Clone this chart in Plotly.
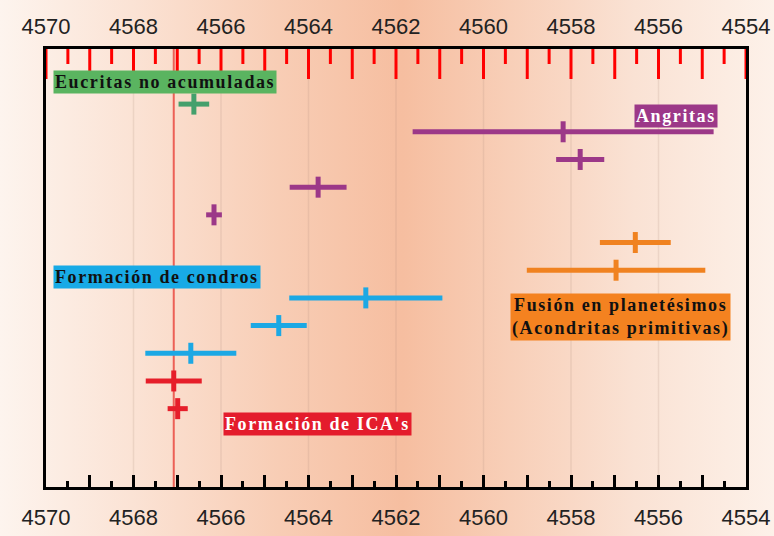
import base64
import plotly.graph_objects as go

# Ages (Ma) and 1-sigma half-widths, one row per dated sample (row 1 at top)
rows_eucritas = [1]
ages_eucritas = [4566.62]
err_eucritas = [0.35]

rows_angritas = [2, 3, 4, 5]
ages_angritas = [4558.18, 4557.79, 4563.78, 4566.16]
err_angritas = [3.44, 0.55, 0.65, 0.18]

rows_fusion = [6, 7]
ages_fusion = [4556.53, 4556.97]
err_fusion = [0.81, 2.04]

rows_condros = [8, 9, 10]
ages_condros = [4562.69, 4564.68, 4566.69]
err_condros = [1.75, 0.64, 1.04]

rows_ica = [11, 12]
ages_ica = [4567.08, 4566.99]
err_ica = [0.64, 0.23]

# Age of the first solids (vertical reference line)
age_ica_line = 4567.08

# Axis ticks
tick_major = list(range(4554, 4571))
tick_minor = [v + 0.5 for v in range(4554, 4570)]
tick_text = [str(v) if v % 2 == 0 else "" for v in tick_major]
grid_vals = list(range(4556, 4570, 2))

W, H = 774, 536
ML, MR, MT, MB = 46, 28, 49, 49
PW, PH = W - ML - MR, H - MT - MB
Y_RANGE = [14.83, -0.99]
PX_PER_ROW = PH / (Y_RANGE[0] - Y_RANGE[1])

groups = [
    (ages_eucritas, err_eucritas, rows_eucritas, "rgb(68,160,108)"),
    (ages_angritas, err_angritas, rows_angritas, "rgb(156,56,136)"),
    (ages_fusion, err_fusion, rows_fusion, "rgb(240,130,32)"),
    (ages_condros, err_condros, rows_condros, "rgb(28,168,228)"),
    (ages_ica, err_ica, rows_ica, "rgb(230,30,42)"),
]

fig = go.Figure()

# tick marks hanging from the top frame (drawn long and red for checking)
tx, ty = [], []
for vals, ln in ((tick_major, 30), (tick_minor, 15)):
    for v in vals:
        tx += [v, v, None]
        ty += [Y_RANGE[1], Y_RANGE[1] + ln / PX_PER_ROW, None]
fig.add_trace(go.Scatter(x=tx, y=ty, mode="lines", line=dict(color="red", width=3),
                         showlegend=False, hoverinfo="skip"))

for ages, errs, rows, col in groups:
    fig.add_trace(go.Scatter(
        x=ages, y=rows, mode="markers",
        marker=dict(symbol="line-ns", size=15, line=dict(width=5, color=col), color=col),
        error_x=dict(type="data", array=errs, thickness=5, width=0, color=col),
        showlegend=False, hoverinfo="skip",
    ))

# Horizontal background gradient across the whole page
stops = [(0.0, "#fdf4ee"), (0.17, "#fbe3d5"), (0.36, "#f8cdb5"), (0.52, "#f6bea0"),
         (0.66, "#f8cfb8"), (0.82, "#fae2d4"), (1.0, "#fdf1e9")]
stop_svg = "".join(f'<stop offset="{o}" stop-color="{c}"/>' for o, c in stops)
svg = ('<svg xmlns="http://www.w3.org/2000/svg" width="774" height="536" preserveAspectRatio="none">'
       '<defs><linearGradient id="g" x1="0" y1="0" x2="1" y2="0">' + stop_svg +
       '</linearGradient></defs><rect width="774" height="536" fill="url(#g)"/></svg>')
uri = "data:image/svg+xml;base64," + base64.b64encode(svg.encode()).decode()
fig.add_layout_image(dict(
    source=uri, xref="paper", yref="paper",
    x=-ML / PW, y=1 + MT / PH, sizex=W / PW, sizey=H / PH,
    sizing="stretch", xanchor="left", yanchor="top", layer="below",
))

shapes = []
for g in grid_vals:
    shapes.append(dict(type="line", xref="x", yref="paper", x0=g, x1=g, y0=0, y1=1,
                       line=dict(color="rgba(170,140,120,0.18)", width=1.5), layer="below"))
shapes.append(dict(type="line", xref="x", yref="paper", x0=age_ica_line, x1=age_ica_line,
                   y0=0, y1=1, line=dict(color="rgb(236,96,86)", width=2), layer="below"))
fig.update_layout(shapes=shapes)

lab_font = dict(family="Liberation Serif", size=18, weight="bold")


def sp(t):
    return f'<span style="letter-spacing:1.6px">{t}</span>'


annots = [
    dict(text=sp("Eucritas no acumuladas"), x=4569.84, y=0.21, xanchor="left",
         bgcolor="rgb(90,180,96)", fc="#111111"),
    dict(text=sp("Angritas"), x=4554.63, y=1.42, xanchor="right",
         bgcolor="rgb(156,56,136)", fc="#ffffff"),
    dict(text=sp("Formación de condros"), x=4569.84, y=7.26, xanchor="left",
         bgcolor="rgb(24,170,230)", fc="#111111"),
    dict(text=sp("Fusión en planetésimos") + "<br>" + sp("(Acondritas primitivas)"),
         x=4556.86, y=8.69, xanchor="center", bgcolor="rgb(244,130,32)", fc="#111111"),
    dict(text=sp("Formación de ICA's"), x=4563.79, y=12.55, xanchor="center",
         bgcolor="rgb(228,28,44)", fc="#ffffff"),
]
for a in annots:
    fig.add_annotation(text=a["text"], x=a["x"], y=a["y"], xref="x", yref="y",
                       xanchor=a["xanchor"], yanchor="middle", showarrow=False,
                       bgcolor=a["bgcolor"], borderpad=1,
                       font=dict(color=a["fc"], **lab_font))

tick_font = dict(family="Liberation Sans", size=22, color="#222222")
axis_common = dict(
    range=[4570, 4554], tickmode="array", tickvals=tick_major, ticktext=tick_text,
    ticks="inside", ticklen=12, tickwidth=2.5, tickcolor="black",
    minor=dict(tickmode="array", tickvals=tick_minor, ticks="inside", ticklen=6,
               tickwidth=2.5, tickcolor="black", showgrid=False),
    showgrid=False, zeroline=False, tickfont=tick_font, automargin=False,
)

fig.update_layout(
    width=W, height=H,
    margin=dict(l=ML, r=MR, t=MT, b=MB, autoexpand=False),
    paper_bgcolor="rgba(0,0,0,0)", plot_bgcolor="rgba(0,0,0,0)",
    xaxis=dict(**axis_common, showline=True, linewidth=3, linecolor="black",
               mirror=True, side="bottom", ticklabelstandoff=9),
    xaxis2=dict(**axis_common, overlaying="x", side="top", anchor="y",
                showline=False, ticklabelstandoff=10),
    yaxis=dict(range=Y_RANGE, showline=True, linewidth=3, linecolor="black",
               mirror=True, showticklabels=False, ticks="", showgrid=False, zeroline=False,
               automargin=False),
)
fig.layout.xaxis2.ticks = ""
fig.layout.xaxis2.minor.ticks = ""
# invisible trace to keep the top axis active
fig.add_trace(go.Scatter(x=[4562], y=[6], xaxis="x2", mode="markers",
                         marker=dict(opacity=0), showlegend=False, hoverinfo="skip"))

fig.write_html("out.html")
